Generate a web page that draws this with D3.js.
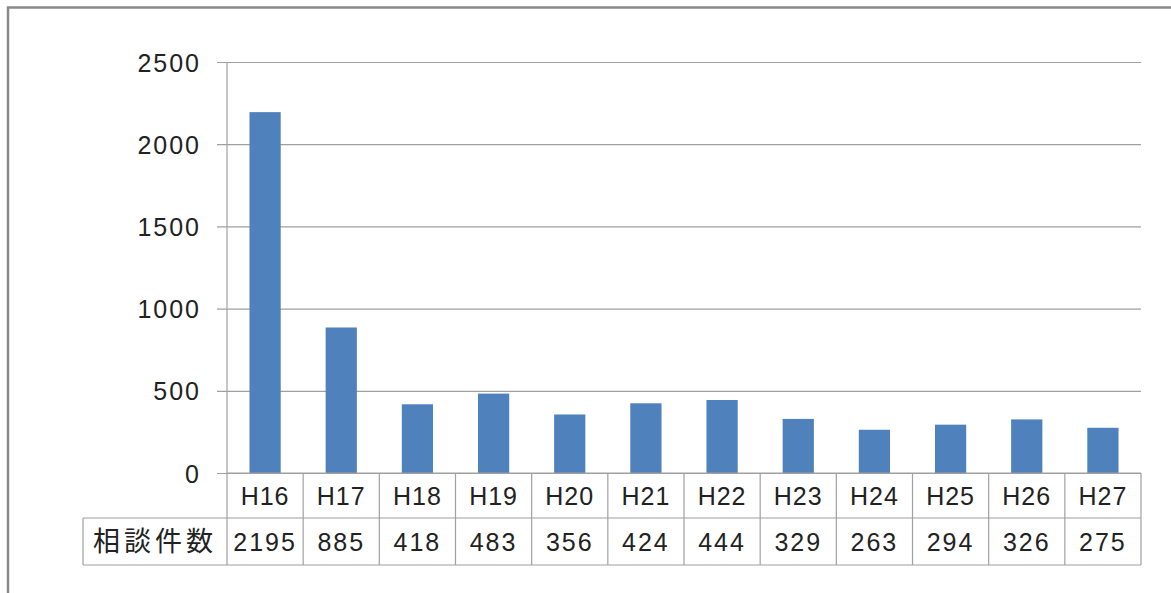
<!DOCTYPE html>
<html><head><meta charset="utf-8">
<script src="https://cdn.jsdelivr.net/npm/d3@7"></script>
<style>
html,body{margin:0;padding:0;background:#fff;}
svg{display:block;}
</style></head>
<body>
<svg id="chart" width="1171" height="593"></svg>
<script>
const categories = ["H16","H17","H18","H19","H20","H21","H22","H23","H24","H25","H26","H27"];
const values = [2195,885,418,483,356,424,444,329,263,294,326,275];
const yTicks = [0,500,1000,1500,2000,2500];
const seriesLabel = "相談件数";

(function(){
const svg = d3.select("#chart");
const pL = 227, pR = 1141, pT = 62, pB = 473;
const row1 = 518, row2 = 565, labelLeft = 83;

// outer frame
svg.append("rect").attr("x",8).attr("y",7.5).attr("width",1200).attr("height",700)
  .attr("fill","none").attr("stroke","#8a8a8a").attr("stroke-width",2.5);

const x = d3.scaleBand().domain(categories).range([pL,pR]).paddingInner(0.59).paddingOuter(0.295);
const xc = d3.scaleBand().domain(categories).range([pL,pR]).padding(0);
const y = d3.scaleLinear().domain([0,2500]).range([pB,pT]);

const numFont = "'Liberation Sans', Arial, sans-serif";
const cjkFont = "'Noto Sans CJK JP', sans-serif";

// gridlines + y axis
const yAxis = d3.axisLeft(y).tickValues(yTicks).tickSize(-(pR-pL)).tickPadding(0).tickFormat(d3.format("d"));
const gy = svg.append("g").attr("transform",`translate(${pL},0)`).call(yAxis);
gy.select(".domain").remove();
gy.selectAll(".tick line").attr("stroke","#a0a0a0").attr("stroke-width",1.2).attr("x1",-10);
gy.selectAll(".tick text").attr("x",-26).attr("dy","0.36em").attr("fill","#222")
  .style("font-family",numFont).style("font-size","25px").style("letter-spacing","2px");
svg.append("line").attr("x1",pL).attr("x2",pL).attr("y1",pT).attr("y2",pB)
  .attr("stroke","#a0a0a0").attr("stroke-width",1.2);

// bars
svg.append("g").selectAll("rect").data(values).join("rect")
  .attr("x",(d,i)=>x(categories[i])).attr("width",x.bandwidth())
  .attr("y",d=>y(d)).attr("height",d=>y(0)-y(d)).attr("fill","#4F81BD");

// table
const tl = svg.append("g").attr("stroke","#a0a0a0").attr("stroke-width",1.2);
tl.append("line").attr("x1",pL).attr("x2",pR).attr("y1",pB).attr("y2",pB);
tl.append("line").attr("x1",labelLeft).attr("x2",pR).attr("y1",row1).attr("y2",row1);
tl.append("line").attr("x1",labelLeft).attr("x2",pR).attr("y1",row2).attr("y2",row2);
tl.append("line").attr("x1",labelLeft).attr("x2",labelLeft).attr("y1",row1).attr("y2",row2);
categories.forEach(c=>{
  tl.append("line").attr("x1",xc(c)).attr("x2",xc(c)).attr("y1",pB).attr("y2",row2);
});
tl.append("line").attr("x1",pR).attr("x2",pR).attr("y1",pB).attr("y2",row2);

const tt = svg.append("g").attr("fill","#222").attr("text-anchor","middle");
categories.forEach((c,i)=>{
  tt.append("text").attr("x",xc(c)+xc.bandwidth()/2).attr("y",(pB+row1)/2).attr("dy","0.36em")
    .style("font-family",numFont).style("font-size","25px").style("letter-spacing","1px").text(c);
  tt.append("text").attr("x",xc(c)+xc.bandwidth()/2).attr("y",(row1+row2)/2).attr("dy","0.36em")
    .style("font-family",numFont).style("font-size","25px").style("letter-spacing","2px").text(values[i]);
});
tt.append("text").attr("x",(labelLeft+pL)/2).attr("y",(row1+row2)/2).attr("dy","0.36em")
  .style("font-family",cjkFont).style("font-size","27px").style("letter-spacing","4px").text(seriesLabel);
})();
</script>
</body></html>
